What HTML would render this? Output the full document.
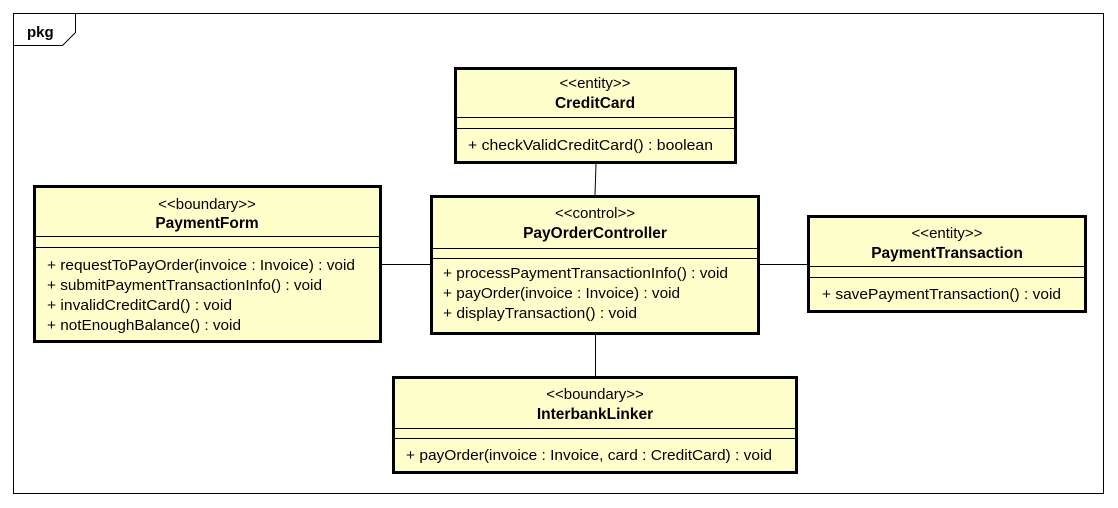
<!DOCTYPE html>
<html><head><meta charset="utf-8"><style>
html,body{margin:0;padding:0;background:#fff;}
svg{display:block;font-family:"Liberation Sans",Arial,sans-serif;}
.s{font-size:15px;fill:#000;text-anchor:middle;}
.n{font-size:15.5px;font-weight:bold;fill:#000;text-anchor:middle;}
.m{font-size:15px;fill:#000;}
.b{fill:#ffffcc;stroke:#000;stroke-width:3;}
.l{stroke:#000;stroke-width:1;fill:none;}
</style></head><body>
<svg width="1118" height="508" viewBox="0 0 1118 508">
<rect x="13.5" y="13.5" width="1090" height="480" fill="#fff" stroke="#000" stroke-width="1"/>
<polyline class="l" points="13.5,45.5 62.5,45.5 75.5,32.5 75.5,13.5"/>
<text x="27" y="37" style="font-size:15px;font-weight:bold">pkg</text>

<line class="l" x1="596" y1="164" x2="595" y2="195"/>
<line class="l" x1="382" y1="264.5" x2="430" y2="264.5"/>
<line class="l" x1="760" y1="264.5" x2="807" y2="264.5"/>
<line class="l" x1="595.5" y1="335" x2="595.5" y2="376"/>

<rect class="b" x="455.5" y="68.5" width="280" height="94"/>
<line class="l" x1="455" y1="117.5" x2="736" y2="117.5"/>
<line class="l" x1="455" y1="128.5" x2="736" y2="128.5"/>
<text class="s" x="595" y="88">&lt;&lt;entity&gt;&gt;</text>
<text class="n" x="595" y="108">CreditCard</text>
<text class="m" x="468" y="150" textLength="245" lengthAdjust="spacingAndGlyphs">+ checkValidCreditCard() : boolean</text>

<rect class="b" x="34.5" y="186.5" width="346" height="155"/>
<line class="l" x1="34" y1="236.5" x2="381" y2="236.5"/>
<line class="l" x1="34" y1="247.5" x2="381" y2="247.5"/>
<text class="s" x="207" y="209">&lt;&lt;boundary&gt;&gt;</text>
<text class="n" x="207" y="228">PaymentForm</text>
<text class="m" x="47" y="270" textLength="308" lengthAdjust="spacingAndGlyphs">+ requestToPayOrder(invoice : Invoice) : void</text>
<text class="m" x="47" y="290" textLength="275" lengthAdjust="spacingAndGlyphs">+ submitPaymentTransactionInfo() : void</text>
<text class="m" x="47" y="310" textLength="185" lengthAdjust="spacingAndGlyphs">+ invalidCreditCard() : void</text>
<text class="m" x="47" y="330" textLength="194" lengthAdjust="spacingAndGlyphs">+ notEnoughBalance() : void</text>

<rect class="b" x="431.5" y="196.5" width="327" height="137"/>
<line class="l" x1="431" y1="248.5" x2="759" y2="248.5"/>
<line class="l" x1="431" y1="258.5" x2="759" y2="258.5"/>
<text class="s" x="595" y="218">&lt;&lt;control&gt;&gt;</text>
<text class="n" x="595" y="238">PayOrderController</text>
<text class="m" x="443" y="278" textLength="285" lengthAdjust="spacingAndGlyphs">+ processPaymentTransactionInfo() : void</text>
<text class="m" x="443" y="298" textLength="237" lengthAdjust="spacingAndGlyphs">+ payOrder(invoice : Invoice) : void</text>
<text class="m" x="443" y="318" textLength="194" lengthAdjust="spacingAndGlyphs">+ displayTransaction() : void</text>

<rect class="b" x="808.5" y="216.5" width="277" height="95"/>
<line class="l" x1="808" y1="266.5" x2="1086" y2="266.5"/>
<line class="l" x1="808" y1="277.5" x2="1086" y2="277.5"/>
<text class="s" x="947" y="238">&lt;&lt;entity&gt;&gt;</text>
<text class="n" x="947" y="258">PaymentTransaction</text>
<text class="m" x="822" y="299" textLength="239" lengthAdjust="spacingAndGlyphs">+ savePaymentTransaction() : void</text>

<rect class="b" x="393.5" y="377.5" width="403" height="95"/>
<line class="l" x1="393" y1="428.5" x2="797" y2="428.5"/>
<line class="l" x1="393" y1="438.5" x2="797" y2="438.5"/>
<text class="s" x="595" y="399">&lt;&lt;boundary&gt;&gt;</text>
<text class="n" x="595" y="419">InterbankLinker</text>
<text class="m" x="406" y="460" textLength="366" lengthAdjust="spacingAndGlyphs">+ payOrder(invoice : Invoice, card : CreditCard) : void</text>
</svg>
</body></html>
